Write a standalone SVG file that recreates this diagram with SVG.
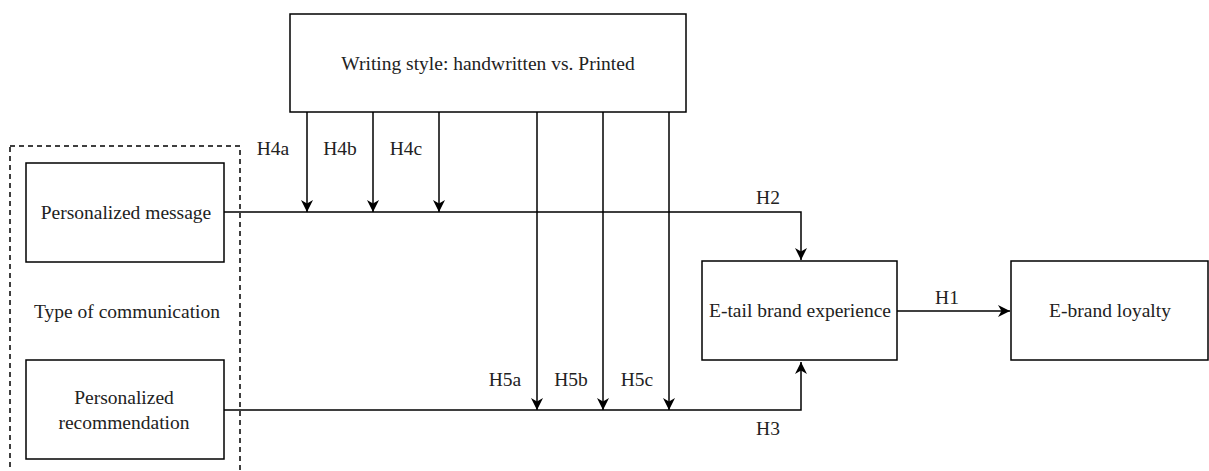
<svg xmlns="http://www.w3.org/2000/svg" width="1209" height="471" viewBox="0 0 1209 471">
<defs>
<style>
.box{fill:#fff;stroke:#000;stroke-width:1.5}
.dash{fill:none;stroke:#000;stroke-width:1.5;stroke-dasharray:5,4}
.t{font-family:"Liberation Serif","Times New Roman",serif;font-size:19.5px;fill:#222;text-anchor:middle}
.ln{fill:none;stroke:#000;stroke-width:1.5}
</style>
<marker id="ah" viewBox="0 0 12 12" refX="12" refY="6" markerWidth="12" markerHeight="12" markerUnits="userSpaceOnUse" orient="auto">
<path d="M0,0 L12,6 L0,12 L3.5,6 Z" fill="#000"/>
</marker>
</defs>
<rect width="1209" height="471" fill="#fff"/>
<g id="group-communication">
<rect class="dash" x="10" y="146" width="230" height="340"/>
<text class="t" x="127" y="318">Type of communication</text>
</g>
<g id="node-style">
<rect class="box" x="290" y="14" width="396" height="98"/>
<text class="t" x="488" y="70">Writing style: handwritten vs. Printed</text>
</g>
<g id="node-message">
<rect class="box" x="26" y="163" width="198" height="99"/>
<text class="t" x="126" y="219">Personalized message</text>
</g>
<g id="node-recommendation">
<rect class="box" x="26" y="360" width="198" height="99"/>
<text class="t" x="124" y="404">Personalized</text>
<text class="t" x="124" y="429">recommendation</text>
</g>
<g id="node-experience">
<rect class="box" x="702" y="261" width="195" height="99"/>
<text class="t" x="800" y="317">E-tail brand experience</text>
</g>
<g id="node-loyalty">
<rect class="box" x="1011" y="261" width="197" height="99"/>
<text class="t" x="1110" y="317">E-brand loyalty</text>
</g>
<g id="connectors">
<polyline class="ln" points="224,212 801,212 801,260" marker-end="url(#ah)"/>
<polyline class="ln" points="224,410 801,410 801,362" marker-end="url(#ah)"/>
<line class="ln" x1="307" y1="112" x2="307" y2="212" marker-end="url(#ah)"/>
<line class="ln" x1="373" y1="112" x2="373" y2="212" marker-end="url(#ah)"/>
<line class="ln" x1="439" y1="112" x2="439" y2="212" marker-end="url(#ah)"/>
<line class="ln" x1="537" y1="112" x2="537" y2="410" marker-end="url(#ah)"/>
<line class="ln" x1="603" y1="112" x2="603" y2="410" marker-end="url(#ah)"/>
<line class="ln" x1="669" y1="112" x2="669" y2="410" marker-end="url(#ah)"/>
<line class="ln" x1="897" y1="311" x2="1010" y2="311" marker-end="url(#ah)"/>
<text class="t" x="273" y="155">H4a</text>
<text class="t" x="340" y="155">H4b</text>
<text class="t" x="406" y="155">H4c</text>
<text class="t" x="505" y="386">H5a</text>
<text class="t" x="571" y="386">H5b</text>
<text class="t" x="637" y="386">H5c</text>
<text class="t" x="768" y="204">H2</text>
<text class="t" x="768" y="435">H3</text>
<text class="t" x="947" y="304">H1</text>
</g>
</svg>
